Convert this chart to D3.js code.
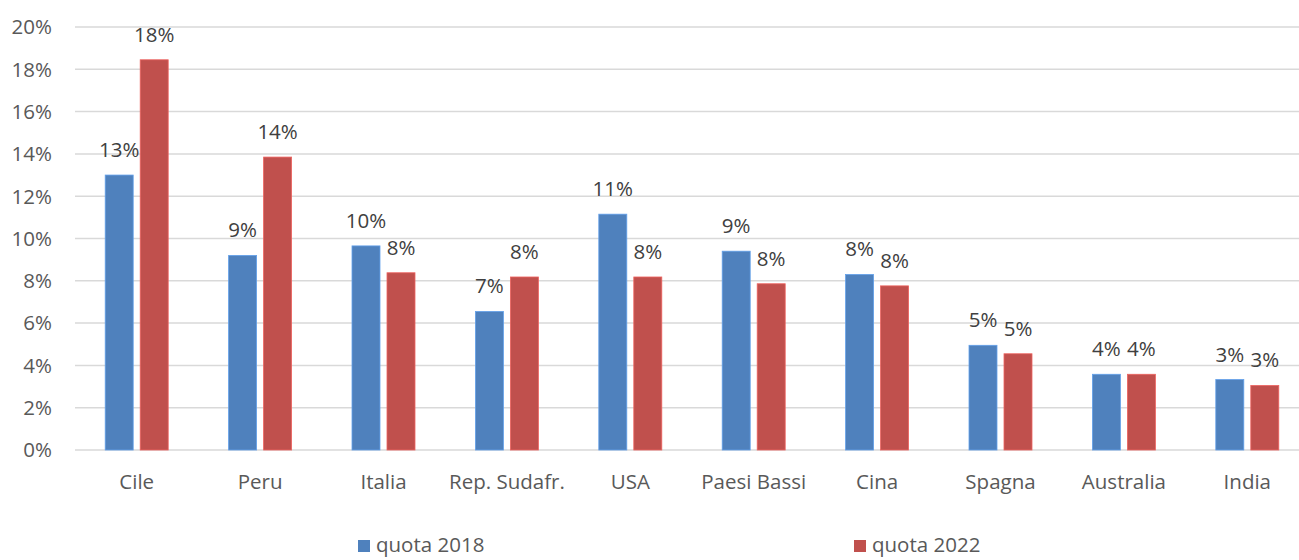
<!DOCTYPE html>
<html lang="it">
<head>
<meta charset="UTF-8">
<title>quota 2018 / 2022</title>
<script src="https://d3js.org/d3.v7.min.js"></script>
<style>
  body { margin: 0; background: #fff; }
  text { font-family: "Open Sans", Lato, sans-serif; }
</style>
</head>
<body>
<div id="chart"></div>
<script>
// dati
const paesi = ["Cile", "Peru", "Italia", "Rep. Sudafr.", "USA", "Paesi Bassi", "Cina", "Spagna", "Australia", "India"];
const quota2018 = [13.0, 9.2, 9.65, 6.55, 11.15, 9.4, 8.3, 4.95, 3.58, 3.33];
const quota2022 = [18.45, 13.85, 8.38, 8.18, 8.18, 7.86, 7.76, 4.55, 3.58, 3.05];
const serie = ["quota 2018", "quota 2022"];
const colori = ["#4F81BD", "#C0504D"];
const yTicks = [0, 2, 4, 6, 8, 10, 12, 14, 16, 18, 20];

const W = 1299, H = 560;
const svg = d3.select("#chart").append("svg")
  .attr("width", W).attr("height", H);

const x = d3.scaleBand().domain(paesi).range([75, 1309]);
const y = d3.scaleLinear().domain([0, 20]).range([450, 27]);
const barW = 28, gap = 7;
const pct = d3.format(".0%");
const fs = 20.5;

// griglia
svg.append("g").selectAll("line")
  .data(yTicks)
  .enter().append("line")
  .attr("x1", 75).attr("x2", W)
  .attr("y1", d => y(d)).attr("y2", d => y(d))
  .attr("stroke", "#D9D9D9").attr("stroke-width", 1.5);

// asse y
svg.append("g").selectAll("text")
  .data(yTicks)
  .enter().append("text")
  .attr("x", 52).attr("y", d => y(d))
  .attr("dy", "0.36em")
  .attr("text-anchor", "end")
  .attr("font-size", fs).attr("fill", "#595959")
  .text(d => d + "%");

// etichette categorie
svg.append("g").selectAll("text")
  .data(paesi)
  .enter().append("text")
  .attr("x", d => x(d) + x.bandwidth() / 2)
  .attr("y", 482).attr("dy", "0.36em")
  .attr("text-anchor", "middle")
  .attr("font-size", fs).attr("fill", "#595959")
  .text(d => d);

// barre
[quota2018, quota2022].forEach((vals, s) => {
  const off = s === 0 ? -(gap / 2 + barW) : gap / 2;
  const g = svg.append("g");
  g.selectAll("rect")
    .data(vals)
    .enter().append("rect")
    .attr("x", (d, i) => x(paesi[i]) + x.bandwidth() / 2 + off)
    .attr("y", d => y(d))
    .attr("width", barW)
    .attr("height", d => y(0) - y(d))
    .attr("fill", colori[s])
    .attr("stroke", d3.color(colori[s]).brighter(0.6))
    .attr("stroke-width", 0.8);
  g.selectAll("text")
    .data(vals)
    .enter().append("text")
    .attr("x", (d, i) => x(paesi[i]) + x.bandwidth() / 2 + off + barW / 2)
    .attr("y", d => y(d) - 18)
    .attr("text-anchor", "middle")
    .attr("font-size", fs).attr("fill", "#404040")
    .text(d => pct(d / 100));
});

// legenda (alzata un po' per non tagliare il testo)
const legX = [358, 854];
const leg = svg.append("g").selectAll("g")
  .data(serie)
  .enter().append("g")
  .attr("transform", (d, i) => `translate(${legX[i]},540)`);
leg.append("rect").attr("width", 12).attr("height", 12)
  .attr("fill", (d, i) => colori[i]);
leg.append("text").attr("x", 18).attr("y", 12)
  .attr("font-size", fs).attr("fill", "#595959")
  .text(d => d);
</script>
</body>
</html>
